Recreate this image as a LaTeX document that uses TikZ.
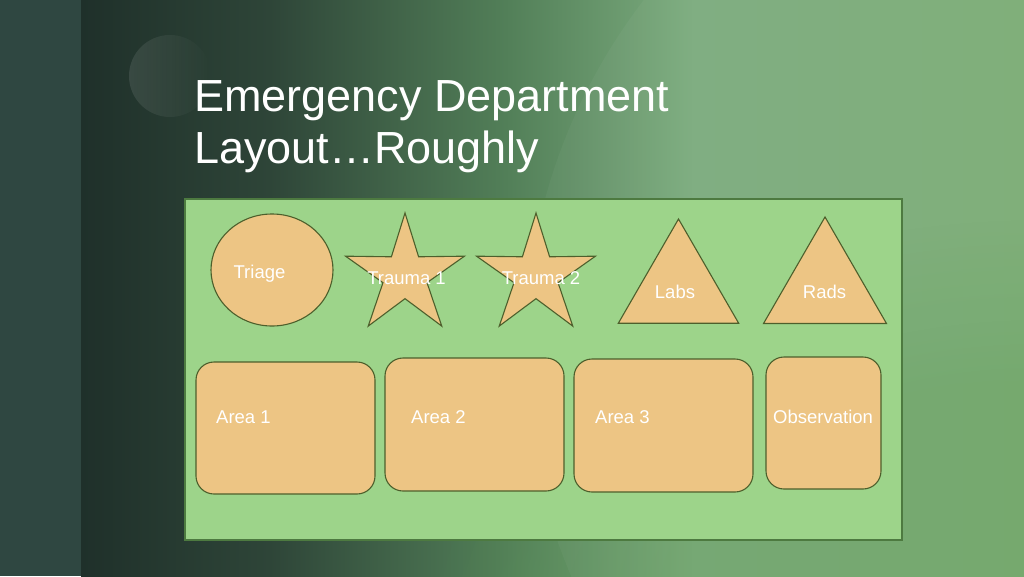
\documentclass[tikz,border=0pt]{standalone}
\usepackage{fontspec}
\setmainfont{Liberation Sans}
\usetikzlibrary{shapes.geometric,fadings}
\definecolor{stripc}{HTML}{2F4741}
\definecolor{bgA}{HTML}{1F302A}
\definecolor{bgB}{HTML}{2E4538}
\definecolor{bgC}{HTML}{527F58}
\definecolor{bgD}{HTML}{7CAC7E}
\definecolor{bgE}{HTML}{7CAD76}
\definecolor{bgbot}{HTML}{5E9A52}
\definecolor{floorc}{HTML}{9DD48A}
\definecolor{floorline}{HTML}{4D7A40}
\definecolor{roomc}{HTML}{EDC584}
\definecolor{roomline}{HTML}{4D5F2C}
\pgfdeclarehorizontalshading{bgsh}{100bp}{color(0bp)=(bgA); color(25bp)=(bgA); color(35bp)=(bgB); color(47.5bp)=(bgC); color(57.5bp)=(bgD); color(75bp)=(bgE); color(100bp)=(bgE)}
\tikzset{
  room/.style={fill=roomc, draw=roomline, line width=1.1pt, inner sep=0pt},
  roundroom/.style={room, rectangle, rounded corners=18pt},
  lbl/.style={text=white, inner sep=0pt, font=\fontsize{18.5}{22}\selectfont},
  ttl/.style={text=white, inner sep=0pt, anchor=base west, font=\fontsize{45}{52}\selectfont}
}
\begin{document}
\begin{tikzpicture}[x=1pt,y=-1pt]
\useasboundingbox (0,0) rectangle (1024,576);
% background
\fill[stripc] (0,0) rectangle (81,576);
\shade[shading=bgsh] (81,0) rectangle (1024,576);
\begin{scope}
\clip (81,0) rectangle (1024,576);
\fill[bgbot, opacity=0.18, path fading=circle with fuzzy edge 20 percent] (1040,640) ellipse[x radius=620, y radius=420];
\fill[bgbot, opacity=0.18, path fading=circle with fuzzy edge 20 percent] (1040,640) ellipse[x radius=480, y radius=320];
\fill[white, opacity=0.035] (1100,350) circle[radius=575];
\fill[white, opacity=0.10, path fading=east] (170,76) circle[radius=41];
\end{scope}
% title
\node[ttl] (t1) at (194,111) {Emergency Department};
\node[ttl] (t2) at (194,163) {Layout…Roughly};
% floor
\node[fill=floorc, draw=floorline, line width=1.5pt, inner sep=0pt, minimum width=717pt, minimum height=341pt, anchor=north west] (floor) at (184,198) {};
% top row
\node[room, ellipse, minimum width=122pt, minimum height=112pt] (triage) at (272,270) {};
\node[room, star, star points=5, star point ratio=2.7, minimum size=125pt] (tr1) at (405,275.5) {};
\node[room, star, star points=5, star point ratio=2.7, minimum size=125pt] (tr2) at (536,275.5) {};
\node[room, regular polygon, regular polygon sides=3, minimum size=139pt] (labs) at (678.5,288.5) {};
\node[room, regular polygon, regular polygon sides=3, minimum size=142pt] (rads) at (825,288) {};
% bottom row
\node[roundroom, minimum width=179pt, minimum height=132pt] (a1) at (285.5,428) {};
\node[roundroom, minimum width=179pt, minimum height=133pt] (a2) at (474.5,424.5) {};
\node[roundroom, minimum width=179pt, minimum height=133pt] (a3) at (663.5,425.5) {};
\node[roundroom, minimum width=115pt, minimum height=132pt] (obs) at (823.5,423) {};
% labels
\node[lbl, anchor=base] (ltriage) at (259.5,278) {Triage};
\node[lbl, anchor=base] (ltr1) at (406.5,284) {Trauma 1};
\node[lbl, anchor=base] (ltr2) at (541,284) {Trauma 2};
\node[lbl, anchor=base] (llabs) at (675,298) {Labs};
\node[lbl, anchor=base] (lrads) at (824.5,298) {Rads};
\node[lbl, anchor=base west] (la1) at (216,423) {Area 1};
\node[lbl, anchor=base west] (la2) at (411,423) {Area 2};
\node[lbl, anchor=base west] (la3) at (595,423) {Area 3};
\node[lbl, anchor=base west] (lobs) at (773,423) {Observation};
\end{tikzpicture}
\end{document}
